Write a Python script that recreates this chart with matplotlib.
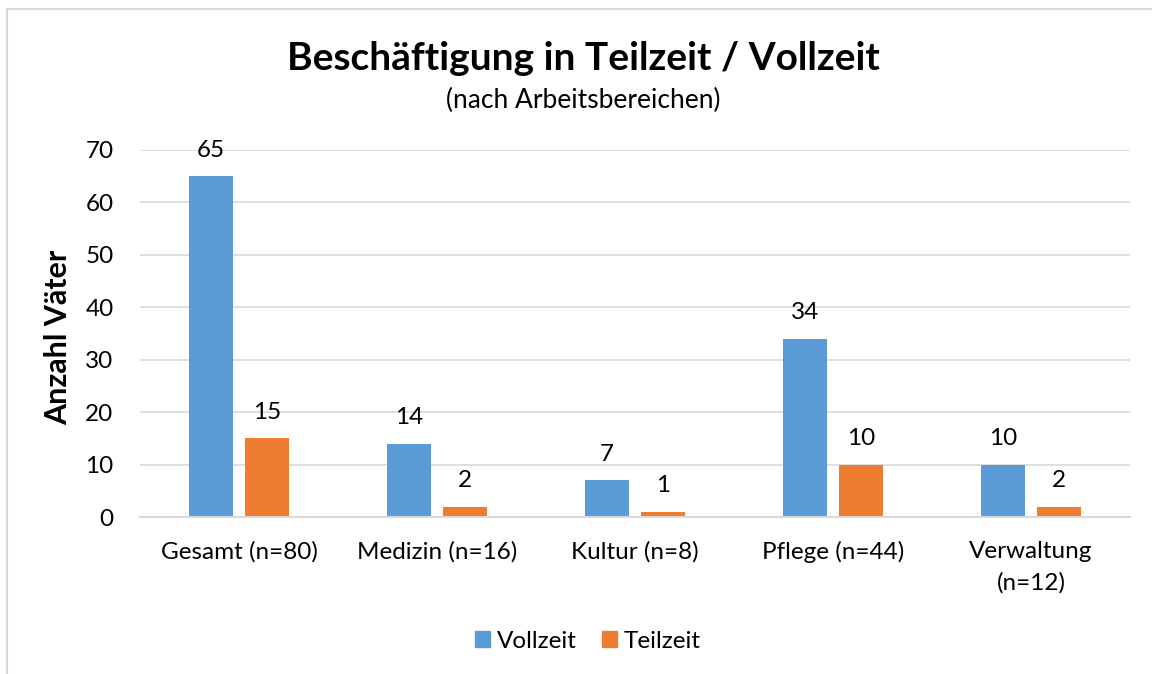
import matplotlib
matplotlib.use("Agg")
import matplotlib.pyplot as plt
import numpy as np
from matplotlib.patches import Rectangle, Patch

categories = ["Gesamt (n=80)", "Medizin (n=16)", "Kultur (n=8)", "Pflege (n=44)", "Verwaltung\n(n=12)"]
vollzeit = [65, 14, 7, 34, 10]
teilzeit = [15, 2, 1, 10, 2]
series_names = ["Vollzeit", "Teilzeit"]
colors = ["#5B9BD5", "#ED7D31"]
yticks = [0, 10, 20, 30, 40, 50, 60, 70]

plt.rcParams['font.family'] = ['Lato', 'DejaVu Sans']

W, H = 1152, 674
fig = plt.figure(figsize=(W/100, H/100), dpi=100)
ax = fig.add_axes([140/W, 1-517/H, (1130-140)/W, (517-150)/H])

FS = 17.5
x = np.arange(len(categories))
bw = 0.224
off = 0.143
b1 = ax.bar(x - off, vollzeit, bw, color=colors[0], zorder=3)
b2 = ax.bar(x + off, teilzeit, bw, color=colors[1], zorder=3)
for bars, vals in ((b1, vollzeit), (b2, teilzeit)):
    for r, v in zip(bars, vals):
        ax.annotate(str(v), (r.get_x() + r.get_width()/2, v), xytext=(0, 11),
                    textcoords="offset points", ha="center", va="bottom", fontsize=FS)

ax.set_xlim(-0.5, len(categories) - 0.5)
ax.set_ylim(0, 70)
ax.set_yticks(yticks)
ax.set_yticklabels([str(t) for t in yticks], fontsize=FS)
ax.set_xticks(x)
ax.set_xticklabels(categories, fontsize=FS, linespacing=1.6)
ax.tick_params(axis='both', length=0)
ax.tick_params(axis='y', pad=19)
ax.tick_params(axis='x', pad=17)
ax.grid(axis='y', color='#D9D9D9', linewidth=1.2, zorder=0)
for s in ['top', 'right', 'left']:
    ax.spines[s].set_visible(False)
ax.spines['bottom'].set_color('#D9D9D9')
ax.spines['bottom'].set_linewidth(1.5)
ax.spines['bottom'].set_zorder(4)

fig.text(583/W, 1-58/H, "Beschäftigung in Teilzeit / Vollzeit", ha="center", va="center",
         fontsize=28, fontweight="bold")
fig.text(583/W, 1-100/H, "(nach Arbeitsbereichen)", ha="center", va="center", fontsize=19)
fig.text(58/W, 1-337/H, "Anzahl Väter", ha="center", va="center", rotation=90,
         fontsize=22, fontweight="bold")

handles = [Patch(color=c) for c in colors]
fig.legend(handles, series_names, loc="center", bbox_to_anchor=(588/W, 1-641/H), ncol=2,
           frameon=False, fontsize=FS, handlelength=0.62, handleheight=0.62,
           handletextpad=0.3, columnspacing=1.0)

fig.add_artist(Rectangle((7/W, -0.05), 1.2, 1 - 9/H + 0.05, transform=fig.transFigure,
                         fill=False, edgecolor="#D9D9D9", linewidth=1.5))

fig.savefig("out.png", dpi=100)
